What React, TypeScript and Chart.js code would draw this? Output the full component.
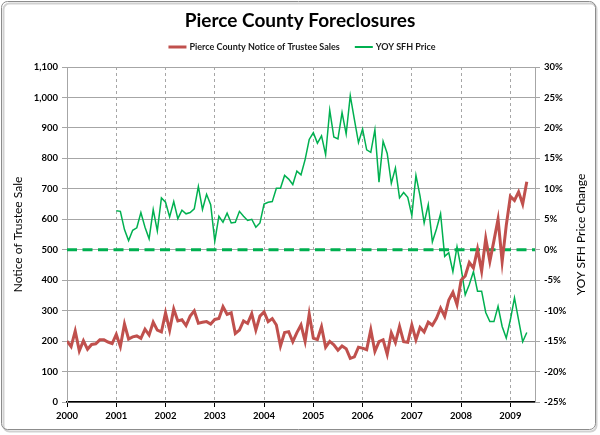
import React, { useEffect, useRef } from 'react';
import { Chart, registerables } from 'chart.js';

Chart.register(...registerables);

// ---- data -------------------------------------------------------------
const START_YEAR = 2000;
const yearTicks = [2000, 2001, 2002, 2003, 2004, 2005, 2006, 2007, 2008, 2009];
const X_MIN = 2000;
const X_MAX = 2009.5;

// Pierce County Notice of Trustee Sales, monthly from Jan 2000 to May 2009
const trusteeSales2000 = [200, 182, 233, 168, 201, 173, 189, 191, 204, 204, 197, 192];
const trusteeSales2001 = [222, 182, 256, 207, 214, 217, 209, 239, 220, 262, 236, 230];
const trusteeSales2002 = [293, 236, 305, 266, 270, 251, 282, 299, 259, 262, 264, 256];
const trusteeSales2003 = [271, 274, 313, 288, 293, 225, 236, 266, 258, 290, 236, 282];
const trusteeSales2004 = [296, 264, 274, 253, 184, 228, 231, 198, 228, 253, 199, 289];
const trusteeSales2005 = [210, 205, 247, 180, 199, 188, 170, 184, 175, 143, 148, 180];
const trusteeSales2006 = [177, 172, 237, 166, 198, 204, 157, 227, 195, 248, 198, 196];
const trusteeSales2007 = [253, 204, 245, 230, 262, 252, 275, 308, 281, 335, 360, 320];
const trusteeSales2008 = [400, 414, 458, 440, 502, 430, 537, 462, 530, 600, 461, 580];
const trusteeSales2009 = [675, 662, 690, 650, 723];

// YOY SFH price change (%), monthly from Jan 2001 to May 2009
const YOY_START_MONTH = 12;
const yoy2001 = [6.4, 6.3, 3.3, 1.5, 3.2, 3.6, 6.1, 3.7, 1.8, 6.6, 3.1, 8.5];
const yoy2002 = [7.8, 5.4, 7.9, 5.1, 6.5, 5.9, 6.1, 6.7, 10.4, 6.6, 9.1, 7.4];
const yoy2003 = [1.4, 5.5, 4.5, 6.0, 4.4, 4.5, 6.3, 5.5, 4.8, 5.0, 3.7, 4.4];
const yoy2004 = [7.5, 7.8, 7.9, 10.1, 10.1, 12.2, 11.6, 10.7, 12.9, 12.3, 14.8, 18.1];
const yoy2005 = [19.2, 17.5, 18.7, 15.6, 22.9, 18.5, 18.2, 22.5, 19.0, 25.3, 21.4, 17.6];
const yoy2006 = [19.8, 16.4, 16.0, 19.7, 11.1, 17.8, 15.8, 10.9, 13.4, 8.5, 9.4, 8.6];
const yoy2007 = [5.6, 12.2, 8.8, 4.4, 7.4, 1.3, 3.4, 5.9, -1.1, -0.5, -3.6, 0.5];
const yoy2008 = [-3.0, -7.4, -5.7, -3.6, -6.8, -6.8, -10.3, -11.8, -11.8, -9.3, -12.6, -14.5];
const yoy2009 = [-11.5, -7.9, -11.5, -15.1, -13.6];

// 0% reference line (dashed)
const zeroLineYears = [2000, 2009.5];
const zeroLineValues = [0, 0];

const salesTitle = 'Pierce County Notice of Trustee Sales';
const yoyTitle = 'YOY SFH Price';
const chartTitle = 'Pierce County Foreclosures';
const leftAxisTitle = 'Notice of Trustee Sale';
const rightAxisTitle = 'YOY SFH Price Change';

const trusteeSales = [
  ...trusteeSales2000, ...trusteeSales2001, ...trusteeSales2002, ...trusteeSales2003,
  ...trusteeSales2004, ...trusteeSales2005, ...trusteeSales2006, ...trusteeSales2007,
  ...trusteeSales2008, ...trusteeSales2009,
];
const yoyChange = [
  ...yoy2001, ...yoy2002, ...yoy2003, ...yoy2004, ...yoy2005,
  ...yoy2006, ...yoy2007, ...yoy2008, ...yoy2009,
];

// ---- styling ----------------------------------------------------------
const FAMILY = 'Lato, "Open Sans", "DejaVu Sans", sans-serif';
const RED = '#c0504d';
const GREEN = '#00b050';
const GRID = '#a6a6a6';

function roundRectPath(ctx: CanvasRenderingContext2D, x: number, y: number, w: number, h: number, r: number) {
  ctx.beginPath();
  ctx.moveTo(x + r, y);
  ctx.lineTo(x + w - r, y);
  ctx.arcTo(x + w, y, x + w, y + r, r);
  ctx.lineTo(x + w, y + h - r);
  ctx.arcTo(x + w, y + h, x + w - r, y + h, r);
  ctx.lineTo(x + r, y + h);
  ctx.arcTo(x, y + h, x, y + h - r, r);
  ctx.lineTo(x, y + r);
  ctx.arcTo(x, y, x + r, y, r);
  ctx.closePath();
}

const decorPlugin = {
  id: 'decor',
  beforeDraw(chart: any) {
    const { ctx, width, height } = chart;
    ctx.save();
    ctx.fillStyle = '#ffffff';
    ctx.fillRect(0, 0, width, height);
    ctx.strokeStyle = 'rgba(0,0,0,0.18)';
    ctx.lineWidth = 2;
    roundRectPath(ctx, 3.5, 3.5, 593, 428, 6);
    ctx.stroke();
    ctx.strokeStyle = '#8c8c8c';
    ctx.lineWidth = 1;
    roundRectPath(ctx, 1.5, 1.5, 594, 428, 6);
    ctx.stroke();
    ctx.restore();
  },
  afterDraw(chart: any) {
    const { ctx, chartArea } = chart;
    ctx.save();
    // title
    ctx.fillStyle = '#000';
    ctx.font = `bold 19px ${FAMILY}`;
    ctx.textAlign = 'center';
    ctx.textBaseline = 'middle';
    ctx.fillText(chartTitle, 300, 21);

    // legend
    ctx.font = `bold 9px ${FAMILY}`;
    ctx.textAlign = 'left';
    const boxW = 18;
    const gap = 3;
    const spacing = 15;
    const w1 = ctx.measureText(salesTitle).width;
    const w2 = ctx.measureText(yoyTitle).width;
    const total = boxW + gap + w1 + spacing + boxW + gap + w2;
    let x = 302 - total / 2;
    const ly = 47;
    ctx.lineCap = 'butt';
    ctx.strokeStyle = RED;
    ctx.lineWidth = 3;
    ctx.beginPath();
    ctx.moveTo(x, ly);
    ctx.lineTo(x + boxW, ly);
    ctx.stroke();
    x += boxW + gap;
    ctx.fillStyle = '#1a1a1a';
    ctx.fillText(salesTitle, x, ly);
    x += w1 + spacing;
    ctx.strokeStyle = GREEN;
    ctx.lineWidth = 2;
    ctx.beginPath();
    ctx.moveTo(x, ly);
    ctx.lineTo(x + boxW, ly);
    ctx.stroke();
    x += boxW + gap;
    ctx.fillText(yoyTitle, x, ly);

    // right axis title (reads bottom to top)
    ctx.font = `12px ${FAMILY}`;
    ctx.fillStyle = '#000';
    ctx.textAlign = 'center';
    ctx.translate(581, (chartArea.top + chartArea.bottom) / 2);
    ctx.rotate(-Math.PI / 2);
    ctx.fillText(rightAxisTitle, 0, 0);
    ctx.restore();
  },
};

export default function App() {
  const canvasRef = useRef<HTMLCanvasElement | null>(null);

  useEffect(() => {
    const canvas = canvasRef.current;
    if (!canvas) return;
    const tickFont = { family: FAMILY, size: 9.5, weight: 'bold' as const };

    const chart = new Chart(canvas, {
      type: 'line',
      data: {
        datasets: [
          {
            label: salesTitle,
            data: trusteeSales.map((v, i) => ({ x: START_YEAR + i / 12, y: v })),
            yAxisID: 'y',
            borderColor: RED,
            backgroundColor: RED,
            borderWidth: 3,
            pointRadius: 0,
            tension: 0,
            order: 0,
          },
          {
            label: yoyTitle,
            data: yoyChange.map((v, k) => ({ x: START_YEAR + (YOY_START_MONTH + k) / 12, y: v })),
            yAxisID: 'y1',
            borderColor: GREEN,
            backgroundColor: GREEN,
            borderWidth: 1.5,
            pointRadius: 0,
            tension: 0,
            order: 1,
          },
          {
            label: 'zero',
            data: zeroLineYears.map((yr, i) => ({ x: yr, y: zeroLineValues[i] })),
            yAxisID: 'y1',
            borderColor: GREEN,
            borderWidth: 3,
            borderDash: [10, 5.5],
            pointRadius: 0,
            order: 2,
          },
        ],
      },
      options: {
        responsive: false,
        animation: false,
        events: [],
        layout: { padding: { top: 67, left: 0, right: 0, bottom: 0 } },
        plugins: {
          legend: { display: false },
          title: { display: false },
          tooltip: { enabled: false },
        },
        scales: {
          x: {
            type: 'linear',
            min: X_MIN,
            max: X_MAX,
            afterBuildTicks: (s: any) => {
              s.ticks = yearTicks.map((v) => ({ value: v }));
            },
            ticks: {
              font: tickFont,
              color: '#000',
              padding: 3,
              autoSkip: false,
              maxRotation: 0,
              callback: (v: any) => String(v),
            },
            grid: {
              color: GRID,
              lineWidth: 1,
              tickColor: '#000',
              tickLength: 5,
              tickBorderDash: [],
            },
            border: { color: '#000', width: 1.5, dash: [3, 3] },
            afterFit: (s: any) => {
              s.height = 33;
            },
          },
          y: {
            position: 'left',
            min: 0,
            max: 1100,
            ticks: {
              stepSize: 100,
              font: tickFont,
              color: '#000',
              padding: 4,
              callback: (v: any) => Number(v).toLocaleString('en-US'),
            },
            grid: { color: GRID, lineWidth: 1, tickLength: 5 },
            border: { color: GRID, width: 1 },
            title: {
              display: true,
              text: leftAxisTitle,
              color: '#000',
              font: { family: FAMILY, size: 12 },
              padding: { top: 11, bottom: 0 },
            },
            afterFit: (s: any) => {
              s.width = 67;
            },
          },
          y1: {
            position: 'right',
            min: -25,
            max: 30,
            ticks: {
              stepSize: 5,
              font: tickFont,
              color: '#000',
              padding: 4,
              callback: (v: any) => `${v}%`,
            },
            grid: { drawOnChartArea: false, color: GRID, tickLength: 5 },
            border: { color: GRID, width: 1 },
            afterFit: (s: any) => {
              s.width = 65;
            },
          },
        },
      },
      plugins: [decorPlugin],
    });

    return () => chart.destroy();
  }, []);

  return (
    <div style={{ position: 'absolute', left: 0, top: 0, width: 600, height: 435 }}>
      <canvas ref={canvasRef} width={600} height={435} style={{ display: 'block' }} />
    </div>
  );
}
